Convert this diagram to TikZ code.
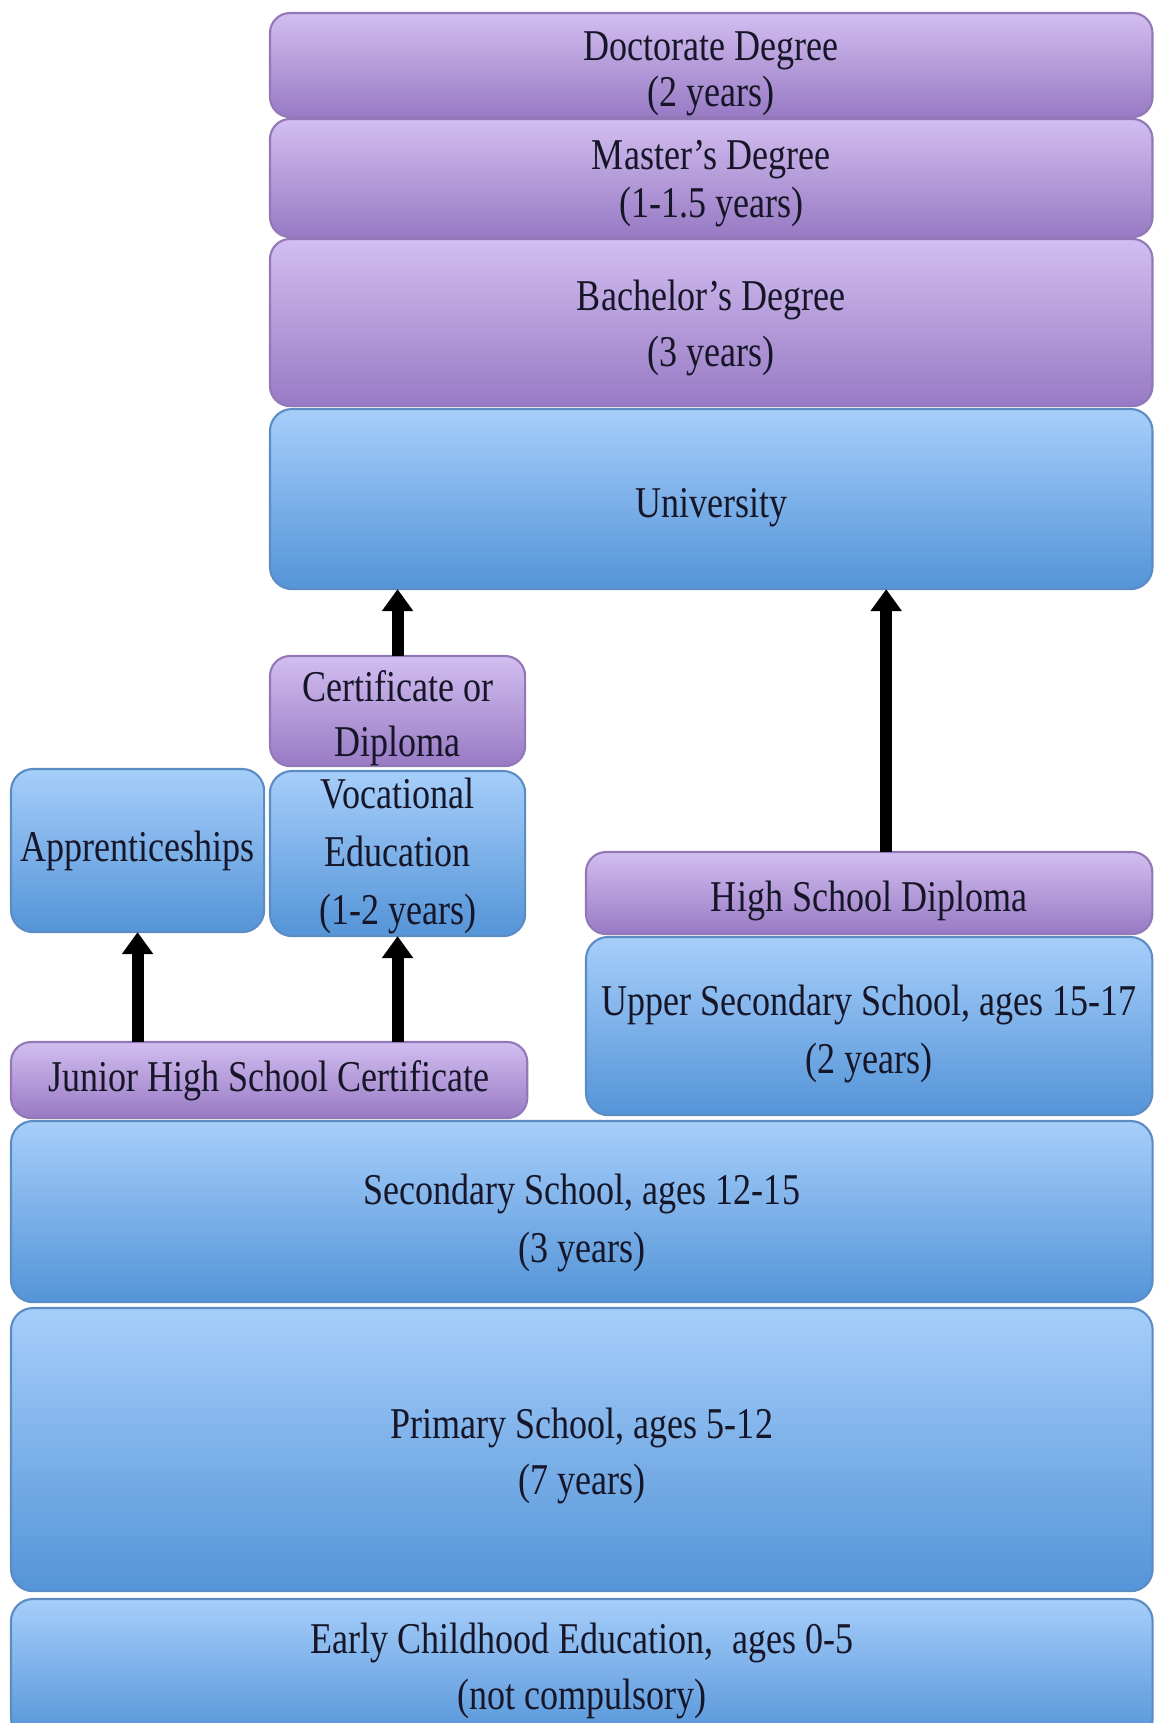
\documentclass[tikz,border=0pt]{standalone}
\usepackage{fontspec}
\setmainfont{Liberation Serif}[FakeStretch=0.82]
\usepackage{tikz}
\usetikzlibrary{positioning,calc,arrows.meta}

\definecolor{lavtop}{RGB}{210,190,240}
\definecolor{lavbot}{RGB}{152,122,196}
\definecolor{lavline}{RGB}{146,120,182}
\definecolor{skytop}{RGB}{166,206,250}
\definecolor{skybot}{RGB}{84,148,216}
\definecolor{skyline}{RGB}{92,140,196}
\definecolor{inktext}{RGB}{22,22,40}

% raise the first line's height so the text sits a bit lower
\newcommand{\sink}[1]{\rule{0pt}{#1}}

\begin{document}
\begin{tikzpicture}[
  x=0.01cm, y=-0.01cm,
  every node/.style={font=\fontsize{12.5}{15}\selectfont, text=inktext},
  degbox/.style={draw=lavline, line width=0.6pt, rounded corners=0.2cm, top color=lavtop, bottom color=lavbot, align=center, anchor=north west, inner xsep=2pt, inner ysep=0pt, outer sep=0pt},
  schoolbox/.style={draw=skyline, line width=0.6pt, rounded corners=0.22cm, top color=skytop, bottom color=skybot, align=center, anchor=north west, inner xsep=2pt, inner ysep=0pt, outer sep=0pt},
  arrow/.style={-{Triangle[length=0.22cm, width=0.3cm]}, line width=0.12cm, black}
]
\useasboundingbox (0,0) rectangle (1154,1723);
\clip (0,0) rectangle (1154,1723);

% Nodes
\node[degbox, minimum width=8.82cm, minimum height=1.04cm] (doct) at (270,13) {\sink{13.1pt}Doctorate Degree\\[-2pt] (2 years)};
\node[degbox, minimum width=8.82cm, minimum height=1.18cm] (mast) at (270,119) {\sink{11.5pt}Master's Degree\\[-1.5pt] (1-1.5 years)};
\node[degbox, minimum width=8.82cm, minimum height=1.67cm] (bach) at (270,239) {\sink{11.8pt}Bachelor's Degree\\[1pt] (3 years)};
\node[schoolbox, minimum width=8.82cm, minimum height=1.80cm] (univ) at (270,409) {\sink{13.3pt}University};

\node[degbox, minimum width=2.55cm, minimum height=1.10cm] (cert) at (270,656) {\sink{13pt}Certificate or\\[0.5pt] Diploma};
\node[schoolbox, minimum width=2.55cm, minimum height=1.65cm] (voc) at (270,771) {\sink{10.3pt}Vocational\\[1.5pt] Education\\[1.5pt] (1-2 years)};
\node[schoolbox, minimum width=2.53cm, minimum height=1.63cm] (appr) at (11,769) {Apprenticeships};
\node[degbox, minimum width=5.16cm, minimum height=0.76cm] (junior) at (11,1042) {\sink{9.5pt}Junior High School Certificate};

\node[degbox, minimum width=5.66cm, minimum height=0.82cm] (hsd) at (586,852) {\sink{13.3pt}High School Diploma};
\node[schoolbox, minimum width=5.66cm, minimum height=1.78cm] (upper) at (586,937) {\sink{13.1pt}Upper Secondary School, ages 15-17\\[1.5pt] (2 years)};

\node[schoolbox, minimum width=11.41cm, minimum height=1.81cm] (sec) at (11,1121) {\sink{15pt}Secondary School, ages 12-15\\[1.5pt] (3 years)};
\node[schoolbox, minimum width=11.41cm, minimum height=2.83cm] (prim) at (11,1308) {\sink{12.5pt}Primary School, ages 5-12\\[1pt] (7 years)};
\node[schoolbox, minimum width=11.41cm, minimum height=1.41cm] (early) at (11,1599) {\sink{9.3pt}Early Childhood Education,~ ages 0-5\\[1pt] (not compulsory)};

% Arrows
\draw[arrow] (appr.south |- junior.north) -- (appr.south);
\draw[arrow] (voc.south |- junior.north) -- (voc.south);
\draw[arrow] (cert.north) -- (cert.north |- univ.south);
\draw[arrow] ([xshift=0.17cm]hsd.north) -- ([xshift=0.17cm]hsd.north |- univ.south);
\end{tikzpicture}
\end{document}
